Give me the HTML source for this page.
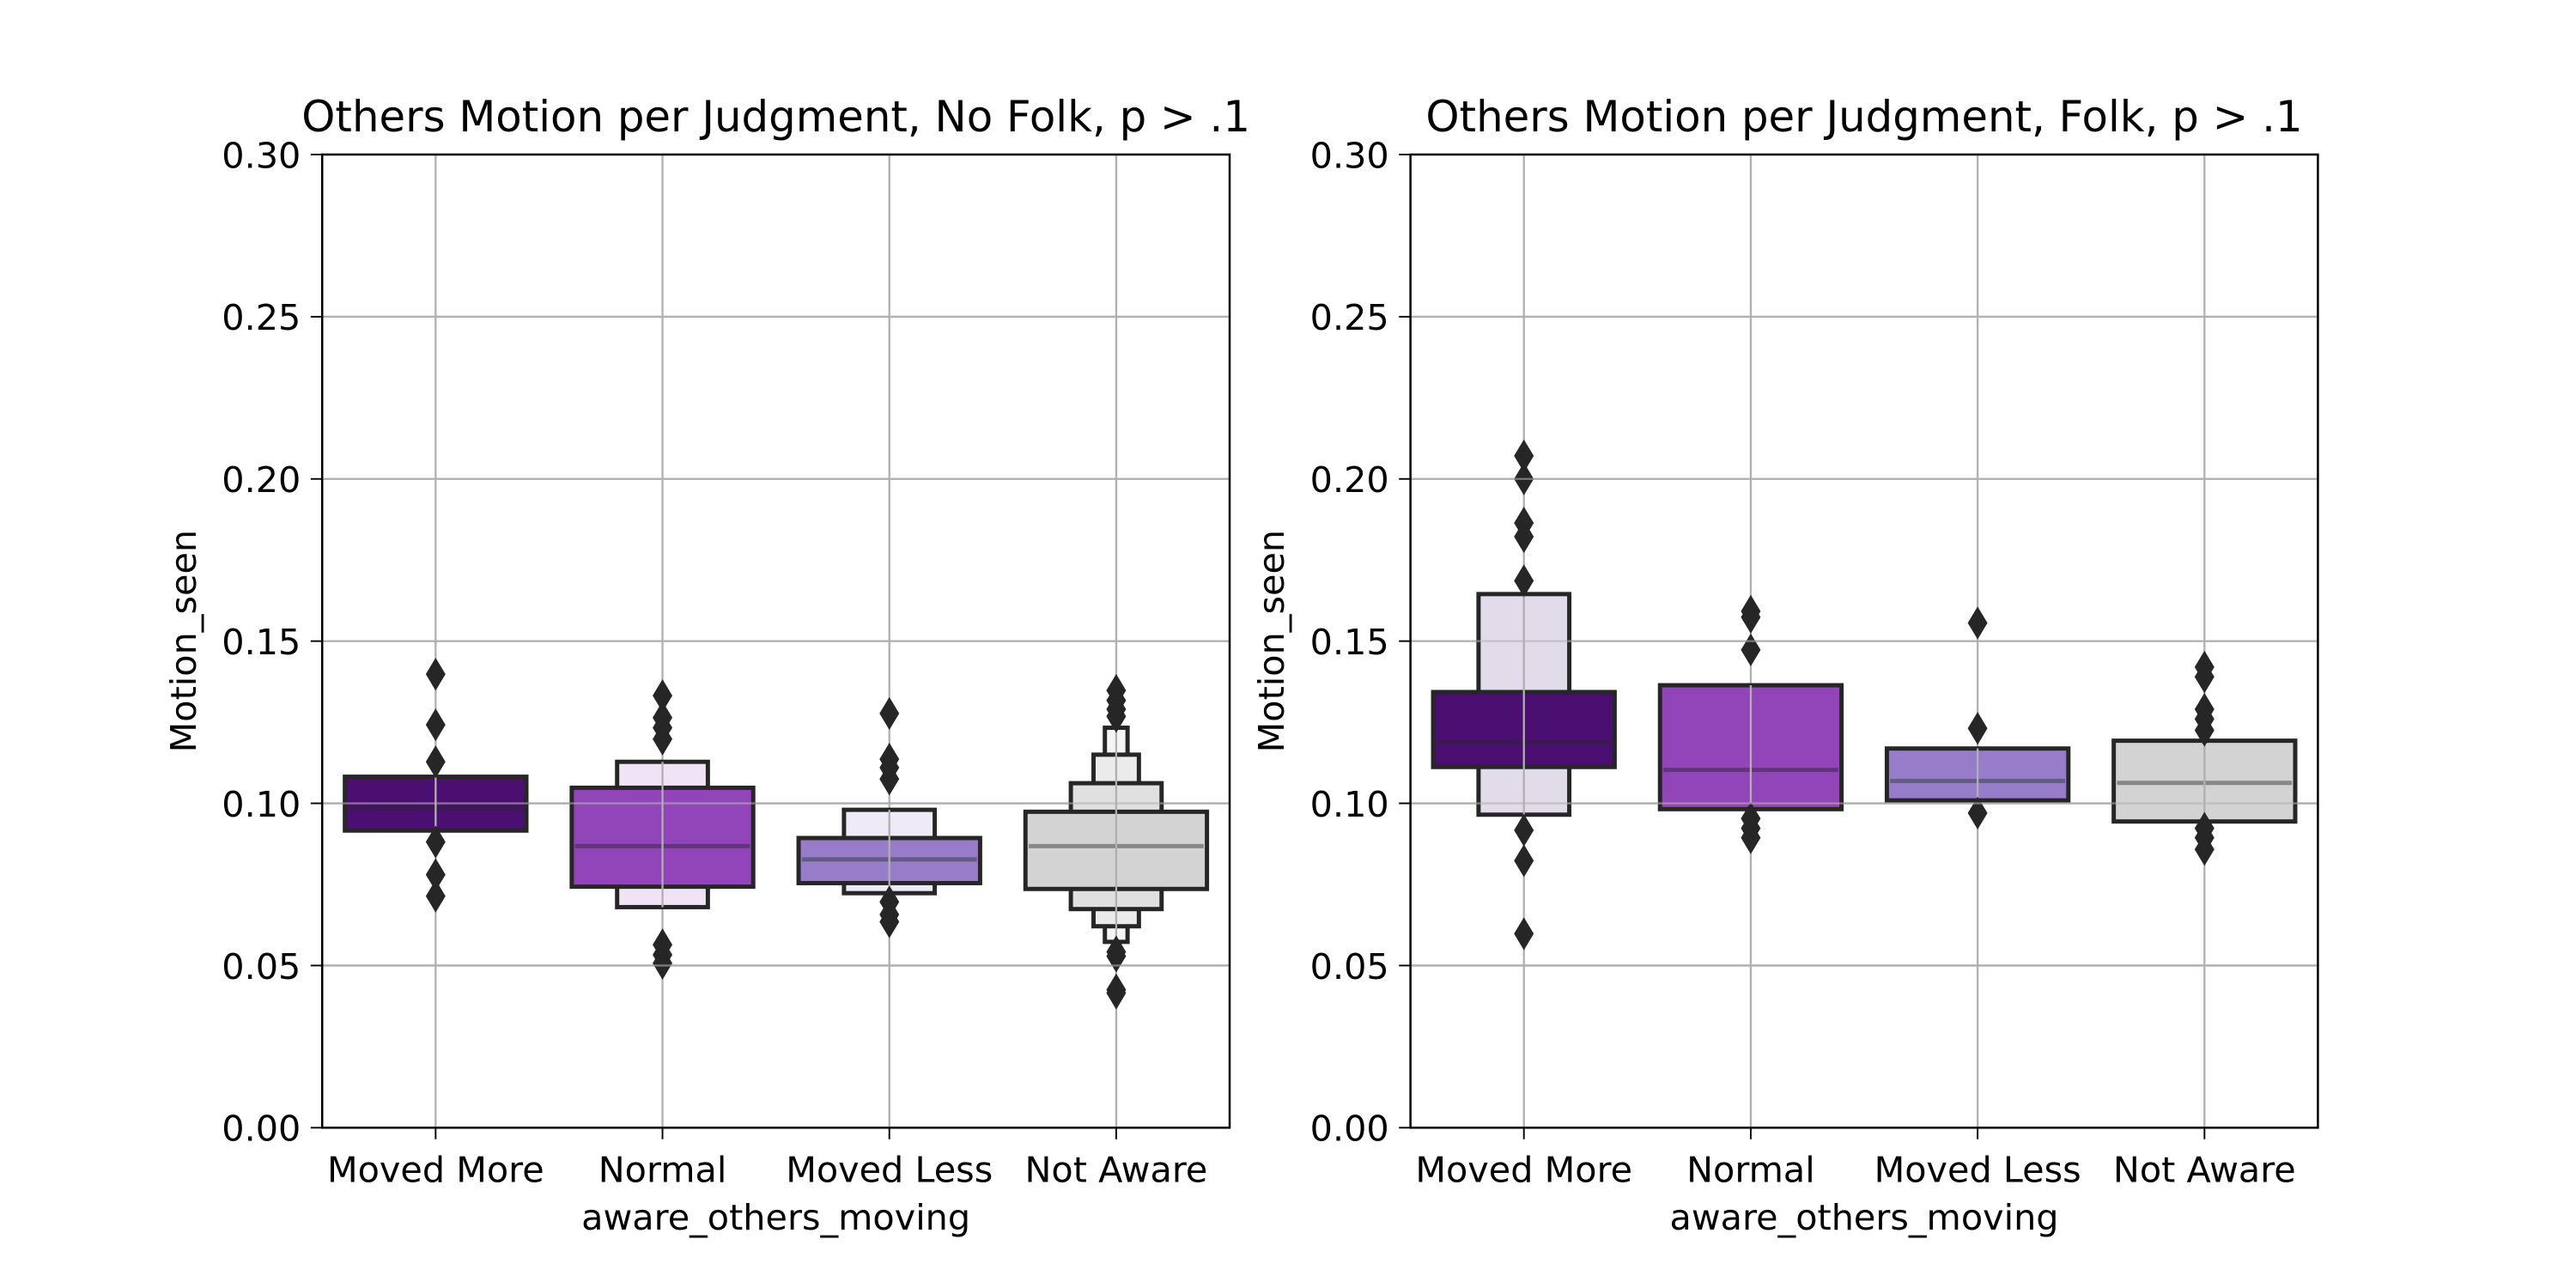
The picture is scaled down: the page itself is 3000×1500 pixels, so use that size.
<!DOCTYPE html>
<html><head><meta charset="utf-8"><style>
html,body{margin:0;padding:0;background:#fff;}
svg{display:block;font-family:"DejaVu Sans","Liberation Sans",sans-serif;}
</style></head><body>
<svg id="chart" width="3000" height="1500" viewBox="0 0 1567 783.5" preserveAspectRatio="none" xmlns="http://www.w3.org/2000/svg"></svg>
<script>
const categories = ["Moved More","Normal","Moved Less","Not Aware"];
const yTicks = [0,0.05,0.10,0.15,0.20,0.25,0.30];
const yTickLabels = ["0.00","0.05","0.10","0.15","0.20","0.25","0.30"];
const titles = ["Others Motion per Judgment, No Folk, p > .1","Others Motion per Judgment, Folk, p > .1"];
const leftLevels = [
  [[0.0916,0.1082]],
  [[0.0743,0.1048],[0.0680,0.1128]],
  [[0.0754,0.0893],[0.0723,0.0980]],
  [[0.0736,0.0974],[0.0674,0.1062],[0.0621,0.1150],[0.0573,0.1233]]
];
const leftMedians = [0.0985,0.0868,0.0827,0.0868];
const leftOutliers = [
  [0.1398,0.1242,0.1128,0.0881,0.0780,0.0714],
  [0.1332,0.1264,0.1233,0.1198,0.0564,0.0533,0.0507],
  [0.1277,0.1136,0.1110,0.1075,0.0696,0.0657,0.0635],
  [0.1348,0.1317,0.1290,0.1268,0.0542,0.0529,0.0425,0.0415]
];
const rightLevels = [
  [[0.1112,0.1343],[0.0965,0.1645]],
  [[0.0982,0.1364]],
  [[0.1009,0.1169]],
  [[0.0944,0.1193]]
];
const rightMedians = [0.1187,0.1103,0.1069,0.1063];
const rightOutliers = [
  [0.2071,0.2000,0.1864,0.1822,0.1686,0.0917,0.0823,0.0598],
  [0.1592,0.1574,0.1473,0.0953,0.0923,0.0894],
  [0.1556,0.1231,0.0970],
  [0.1420,0.1390,0.1290,0.1260,0.1225,0.0923,0.0894,0.0858]
];
const palettes = [
  ["#4a0f70","#e2dbea"],
  ["#9245b8","#efe3f5"],
  ["#967cc9","#eeeaf7"],
  ["#d3d3d3","#e0e0e0","#ebebeb","#f5f5f5"]
];
const medColors = ["#3a1a50","#603678","#665a86","#878787"];

const NS="http://www.w3.org/2000/svg";
const svg=document.getElementById('chart');
function mk(tag,attrs,parent){const e=document.createElementNS(NS,tag);for(const k in attrs)e.setAttribute(k,attrs[k]);(parent||svg).appendChild(e);return e;}

function panel(x0,x1,levels,medians,outliers,title,idx){
  const y0=686,y1=94;
  const g=mk('g',{});
  
  
  const ys=v=>y0-(v/0.30)*(y0-y1);
  const step=(x1-x0)/4;
  const xs=i=>x0+step*(i+0.5);
  yTicks.forEach((t,i)=>{
    const l=mk('line',{x1:x0,x2:x1,y1:ys(t),y2:ys(t),stroke:'#b0b0b0','stroke-width':1.2},g);
    
    
    const tk=mk('line',{x1:x0-7,x2:x0,y1:ys(t),y2:ys(t),stroke:'#000','stroke-width':1},g);
    
    
    const tx=mk('text',{x:x0-13,y:ys(t)+8,'text-anchor':'end','font-size':21.6,fill:'#000'},g);
    tx.textContent=yTickLabels[i];
    
    
  });
  categories.forEach((c,i)=>{
    const l=mk('line',{x1:xs(i),x2:xs(i),y1:y0,y2:y1,stroke:'#b0b0b0','stroke-width':1.2},g);
    
    
    const tk=mk('line',{x1:xs(i),x2:xs(i),y1:y0,y2:y0+7,stroke:'#000','stroke-width':1},g);
    
    
    const tx=mk('text',{x:xs(i),y:y0+33,'text-anchor':'middle','font-size':21.6,fill:'#000'},g);
    tx.textContent=c;
    
    
  });
  categories.forEach((c,i)=>{
    const lv=levels[i];
    for(let k=lv.length-1;k>=0;k--){
      const w=step*0.8/Math.pow(2,k);
      const r=mk('rect',{x:xs(i)-w/2,y:ys(lv[k][1]),width:w,height:ys(lv[k][0])-ys(lv[k][1]),fill:palettes[i][k],stroke:'#262626','stroke-width':2.6},g);
      
      
    }
    const w0=step*0.8;
    const m=mk('line',{x1:xs(i)-w0/2+2,x2:xs(i)+w0/2-2,y1:ys(medians[i]),y2:ys(medians[i]),stroke:medColors[i],'stroke-width':2.6},g);
    
    
    const gl=mk('line',{x1:xs(i),x2:xs(i),y1:ys(lv[lv.length-1][1]),y2:ys(lv[lv.length-1][0]),stroke:'#b0b0b0','stroke-width':1.2},g);
    
    
    outliers[i].forEach(v=>{
      const cx=xs(i),cy=ys(v);
      const d=mk('polygon',{points:`${cx},${cy-10} ${cx+6},${cy} ${cx},${cy+10} ${cx-6},${cy}`,fill:'#262626'},g);
      
      
    });
  });
  yTicks.forEach(t=>{
    if(t===0||t===0.30)return;
    const l=mk('line',{x1:x0,x2:x1,y1:ys(t),y2:ys(t),stroke:'#b0b0b0','stroke-width':1.2,'stroke-opacity':0.6},g);
    
    
  });
  const fr=mk('rect',{x:x0,y:y1,width:x1-x0,height:y0-y1,fill:'none',stroke:'#000','stroke-width':1.3},g);
  
  
  const tt=mk('text',{x:(x0+x1)/2,y:80,'text-anchor':'middle','font-size':26,fill:'#000'},g);
  tt.textContent=title;
  
  
  const xl=mk('text',{x:(x0+x1)/2,y:748,'text-anchor':'middle','font-size':21.6,fill:'#000'},g);
  xl.textContent='aware_others_moving';
  
  
  const yl=mk('text',{x:0,y:0,'text-anchor':'middle','font-size':21.6,fill:'#000',transform:`translate(${x0-77},${(y0+y1)/2}) rotate(-90)`},g);
  yl.textContent='Motion_seen';
  
  
}
panel(196,748,leftLevels,leftMedians,leftOutliers,titles[0],0);
panel(858,1410,rightLevels,rightMedians,rightOutliers,titles[1],1);
</script>
</body></html>
